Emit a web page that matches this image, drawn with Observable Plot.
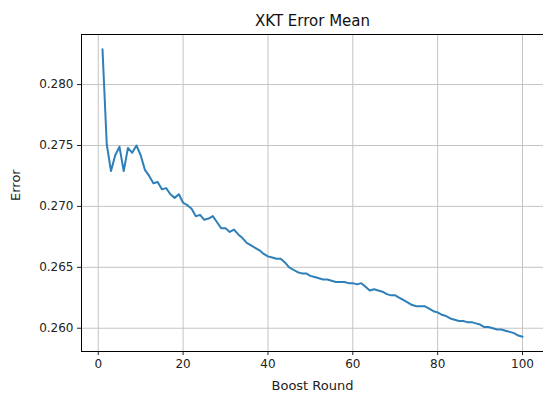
<!DOCTYPE html>
<html><head><meta charset="utf-8">
<script src="https://cdn.jsdelivr.net/npm/d3@7"></script>
<script src="https://cdn.jsdelivr.net/npm/@observablehq/plot@0.6"></script>
<style>html,body{margin:0;padding:0;background:#fff} svg{display:block}</style>
</head><body><div id="chart"></div><script>
const title = "XKT Error Mean";
const xLabel = "Boost Round";
const yLabel = "Error";
const xTicks = [0, 20, 40, 60, 80, 100];
const yTicks = [0.260, 0.265, 0.270, 0.275, 0.280];
const errorMean = [
  0.2829, 0.2751, 0.2729, 0.2742, 0.2749, 0.2729, 0.2748, 0.2744, 0.2750, 0.2742,
  0.2730, 0.2725, 0.2719, 0.2720, 0.2714, 0.2715, 0.2710, 0.2707, 0.2710, 0.2703,
  0.2701, 0.2698, 0.2692, 0.2693, 0.2689, 0.2690, 0.2692, 0.2687, 0.2682, 0.2682,
  0.2679, 0.2681, 0.2677, 0.2674, 0.2670, 0.2668, 0.2666, 0.2664, 0.2661, 0.2659,
  0.2658, 0.2657, 0.2657, 0.2654, 0.2650, 0.2648, 0.2646, 0.2645, 0.2645, 0.2643,
  0.2642, 0.2641, 0.2640, 0.2640, 0.2639, 0.2638, 0.2638, 0.2638, 0.2637, 0.2637,
  0.2636, 0.2637, 0.2634, 0.2631, 0.2632, 0.2631, 0.2630, 0.2628, 0.2627, 0.2627,
  0.2625, 0.2623, 0.2621, 0.2619, 0.2618, 0.2618, 0.2618, 0.2616, 0.2614, 0.2613,
  0.2611, 0.2610, 0.2608, 0.2607, 0.2606, 0.2606, 0.2605, 0.2605, 0.2604, 0.2603,
  0.2601, 0.2601, 0.2600, 0.2599, 0.2599, 0.2598, 0.2597, 0.2596, 0.2594, 0.2593
];
const rounds = errorMean.map((_, i) => i + 1);
const data = rounds.map((r, i) => ({round: r, error: errorMean[i]}));

const chart = Plot.plot({
  width: 543, height: 395,
  marginLeft: 81, marginRight: 0, marginTop: 34, marginBottom: 44,
  style: {fontFamily: "DejaVu Sans", background: "#fff", color: "#222"},
  x: {domain: [-3.95, 104.95]},
  y: {domain: [0.25809, 0.28411]},
  marks: [
    Plot.gridX(xTicks, {stroke: "#c4c4c4", strokeOpacity: 1, strokeWidth: 1}),
    Plot.gridY(yTicks, {stroke: "#c4c4c4", strokeOpacity: 1, strokeWidth: 1}),
    Plot.axisX(xTicks, {tickSize: 4, tickPadding: 4, fontSize: 12, label: null}),
    Plot.axisY(yTicks, {tickSize: 4, tickPadding: 4, fontSize: 12, label: null, tickFormat: d3.format(".3f")}),
    Plot.line(data, {x: "round", y: "error", stroke: "#2f7fb8", strokeWidth: 2}),
    Plot.frame({stroke: "#000", strokeWidth: 1}),
    Plot.text([title], {text: d => d, frameAnchor: "top", lineAnchor: "middle", dy: -13, fontSize: 15, fill: "#111"}),
    Plot.text([xLabel], {text: d => d, frameAnchor: "bottom", lineAnchor: "middle", dy: 34, fontSize: 13, fill: "#222"}),
    Plot.text([yLabel], {text: d => d, frameAnchor: "left", lineAnchor: "middle", rotate: -90, dx: -66, dy: 8, fontSize: 13, fill: "#222"})
  ]
});
document.getElementById("chart").appendChild(chart);
</script></body></html>
